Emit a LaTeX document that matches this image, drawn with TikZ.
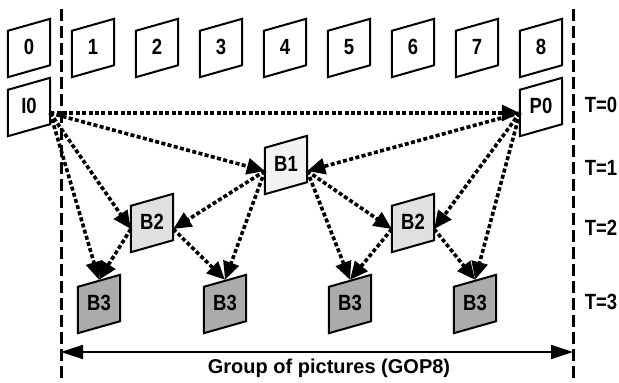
\documentclass[tikz,border=0pt]{standalone}
\usepackage{fontspec}
\setmainfont{Liberation Sans}
\newfontfamily\narrowsf{Liberation Sans}[FakeStretch=0.84]
\usetikzlibrary{arrows.meta,backgrounds}

\tikzset{
  frm/.style={minimum width=42pt,minimum height=46pt,inner sep=0pt,
    font=\narrowsf\bfseries\fontsize{22}{26}\selectfont},
  outl/.style={line width=2pt,line join=miter},
  ref/.style={line width=3.6pt,dash pattern=on 4pt off 2.4pt,
    -{Triangle[length=18pt,width=16pt]}},
  sep/.style={line width=3pt,dash pattern=on 12pt off 5pt},
  gop/.style={line width=1.8pt,
    {Triangle[length=22pt,width=14pt]}-{Triangle[length=22pt,width=14pt]}},
  tlbl/.style={font=\narrowsf\bfseries\fontsize{22}{26}\selectfont}
}

\begin{document}
\begin{tikzpicture}[x=1pt,y=-1pt]
    \useasboundingbox (0,0) rectangle (619,383);

    % separators of the GOP
    \coordinate (sl1) at (61,9);
    \coordinate (sl2) at (61,383);
    \coordinate (sr1) at (573,9);
    \coordinate (sr2) at (573,383);
    \draw[sep] (sl1) -- (sl2);
    \draw[sep] (sr1) -- (sr2);

    % display order
    \foreach \i in {0,...,8}
        \node[frm] (f\i) at (29+64*\i,47) {\i};

    % coding order
    \node[frm] (i0) at (29,106) {I0};
    \node[frm] (p0) at (541,106) {P0};
    \node[frm] (b1) at (286,164) {B1};
    \node[frm] (b2l) at (152,222) {B2};
    \node[frm] (b2r) at (413,222) {B2};
    \node[frm] (b3a) at (99,303) {B3};
    \node[frm] (b3b) at (225,303) {B3};
    \node[frm] (b3c) at (350,303) {B3};
    \node[frm] (b3d) at (475,303) {B3};

    \begin{scope}[on background layer]
        \foreach \n/\c in {f0/white,f1/white,f2/white,f3/white,f4/white,f5/white,f6/white,f7/white,f8/white,
                           i0/white,p0/white,b1/gray!10,b2l/gray!24,b2r/gray!24,
                           b3a/gray!66,b3b/gray!66,b3c/gray!66,b3d/gray!66}
            \filldraw[outl,fill=\c] ([yshift=-7pt]\n.north west) -- ([yshift=5pt]\n.north east)
                -- ([yshift=5pt]\n.south east) -- ([yshift=-7pt]\n.south west) -- cycle;
    \end{scope}

    % references
    \foreach \s/\t in {i0.east/p0.west,i0.east/b1.west,i0.east/b2l.west,b1.west/b2l.east,
                       p0.west/b1.east,b1.east/b2r.west,p0.west/b2r.east}
        \draw[ref] ([yshift=-7pt]\s) -- ([yshift=-7pt]\t);
    \foreach \s/\t in {i0.east/b3a,b2l.west/b3a,b2l.east/b3b,b1.west/b3b,
                       b1.east/b3c,b2r.west/b3c,b2r.east/b3d,p0.west/b3d}
        \draw[ref] ([yshift=-7pt]\s) -- (\t.north);

    % temporal levels
    \node[tlbl] (t0) at (601,105) {T=0};
    \node[tlbl] (t1) at (601,168) {T=1};
    \node[tlbl] (t2) at (601,228) {T=2};
    \node[tlbl] (t3) at (601,302) {T=3};

    % GOP length
    \coordinate (ga) at (61,352);
    \coordinate (gb) at (573,352);
    \draw[gop] (ga) -- (gb);
    \node[font=\bfseries\fontsize{20}{24}\selectfont] (gl) at (329,368) {Group of pictures (GOP8)};
\end{tikzpicture}
\end{document}
